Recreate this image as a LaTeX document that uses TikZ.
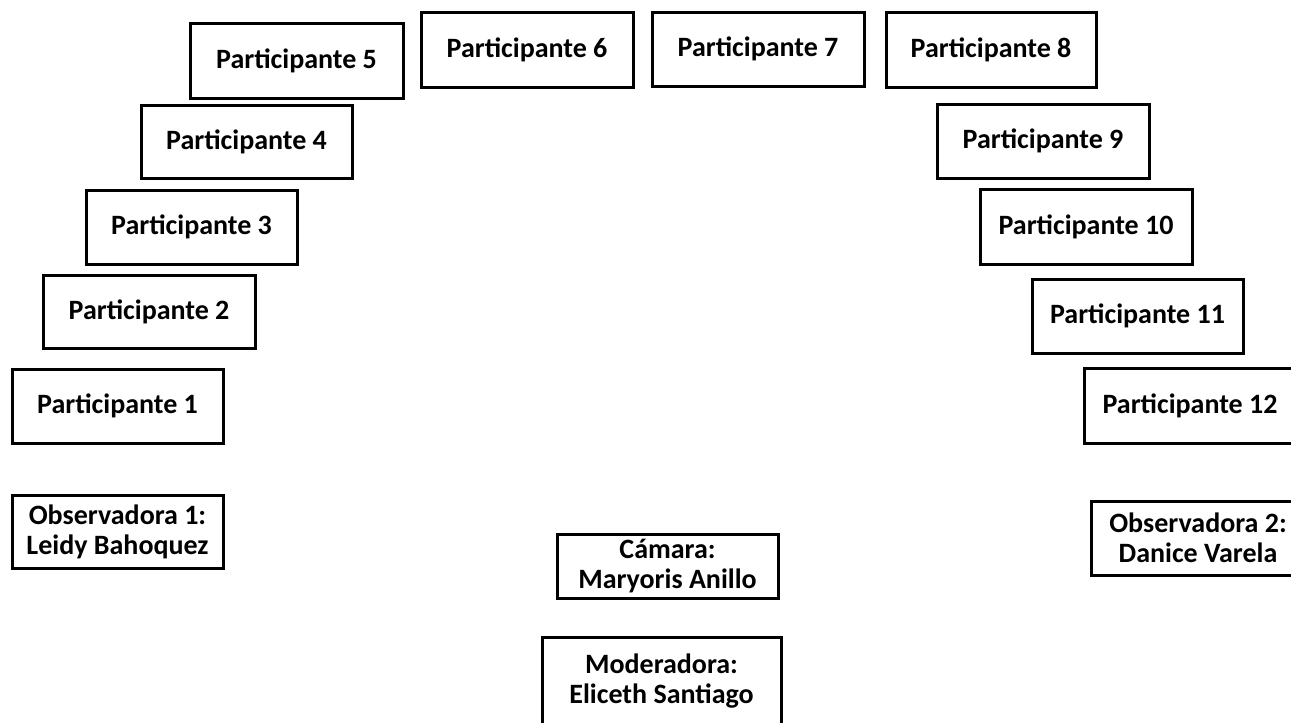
\documentclass[tikz,border=0pt]{standalone}
\usepackage{fontspec}
\setmainfont{Carlito}
\begin{document}
\begin{tikzpicture}[x=1pt,y=-1pt,
  seat/.style={draw=black,line width=3pt,rectangle,inner sep=0pt,
    align=center,font=\fontsize{28}{30}\selectfont\bfseries},
  wh/.style n args={2}{minimum width=#1pt,minimum height=#2pt}]
\useasboundingbox (0,0) rectangle (1291,723);
\clip (0,0) rectangle (1291,723);
% left arc of participants
\node[seat,wh={211}{74}] (p1) at (117.5,406) {Participante 1};
\node[seat,wh={212}{73}] (p2) at (149,311.5) {Participante 2};
\node[seat,wh={211}{74}] (p3) at (191.5,227) {Participante 3};
\node[seat,wh={211}{73}] (p4) at (246.5,141.5) {Participante 4};
\node[seat,wh={213}{75}] (p5) at (296.5,60.5) {Participante 5};
% top row
\node[seat,wh={212}{75}] (p6) at (527,49.5) {Participante 6};
\node[seat,wh={212}{74}] (p7) at (758,49) {Participante 7};
\node[seat,wh={210}{75}] (p8) at (991,49.5) {Participante 8};
% right arc of participants
\node[seat,wh={212}{74}] (p9) at (1043,141) {Participante 9};
\node[seat,wh={212}{75}] (p10) at (1086,226.5) {Participante 10};
\node[seat,wh={211}{74}] (p11) at (1137.5,316) {Participante 11};
\node[seat,wh={212}{75}] (p12) at (1190,405.5) {Participante 12};
% observers, camera and moderator
\node[seat,wh={211}{73}] (obs1) at (117.5,531.5) {Observadora 1:\\Leidy Bahoquez};
\node[seat,wh={214}{74}] (obs2) at (1198,538) {Observadora 2:\\Danice Varela};
\node[seat,wh={221}{64}] (cam) at (667.5,566) {Cámara:\\Maryoris Anillo};
\node[seat,wh={239}{88}] (mod) at (661.5,681) {Moderadora:\\Eliceth Santiago};
\end{tikzpicture}
\end{document}
